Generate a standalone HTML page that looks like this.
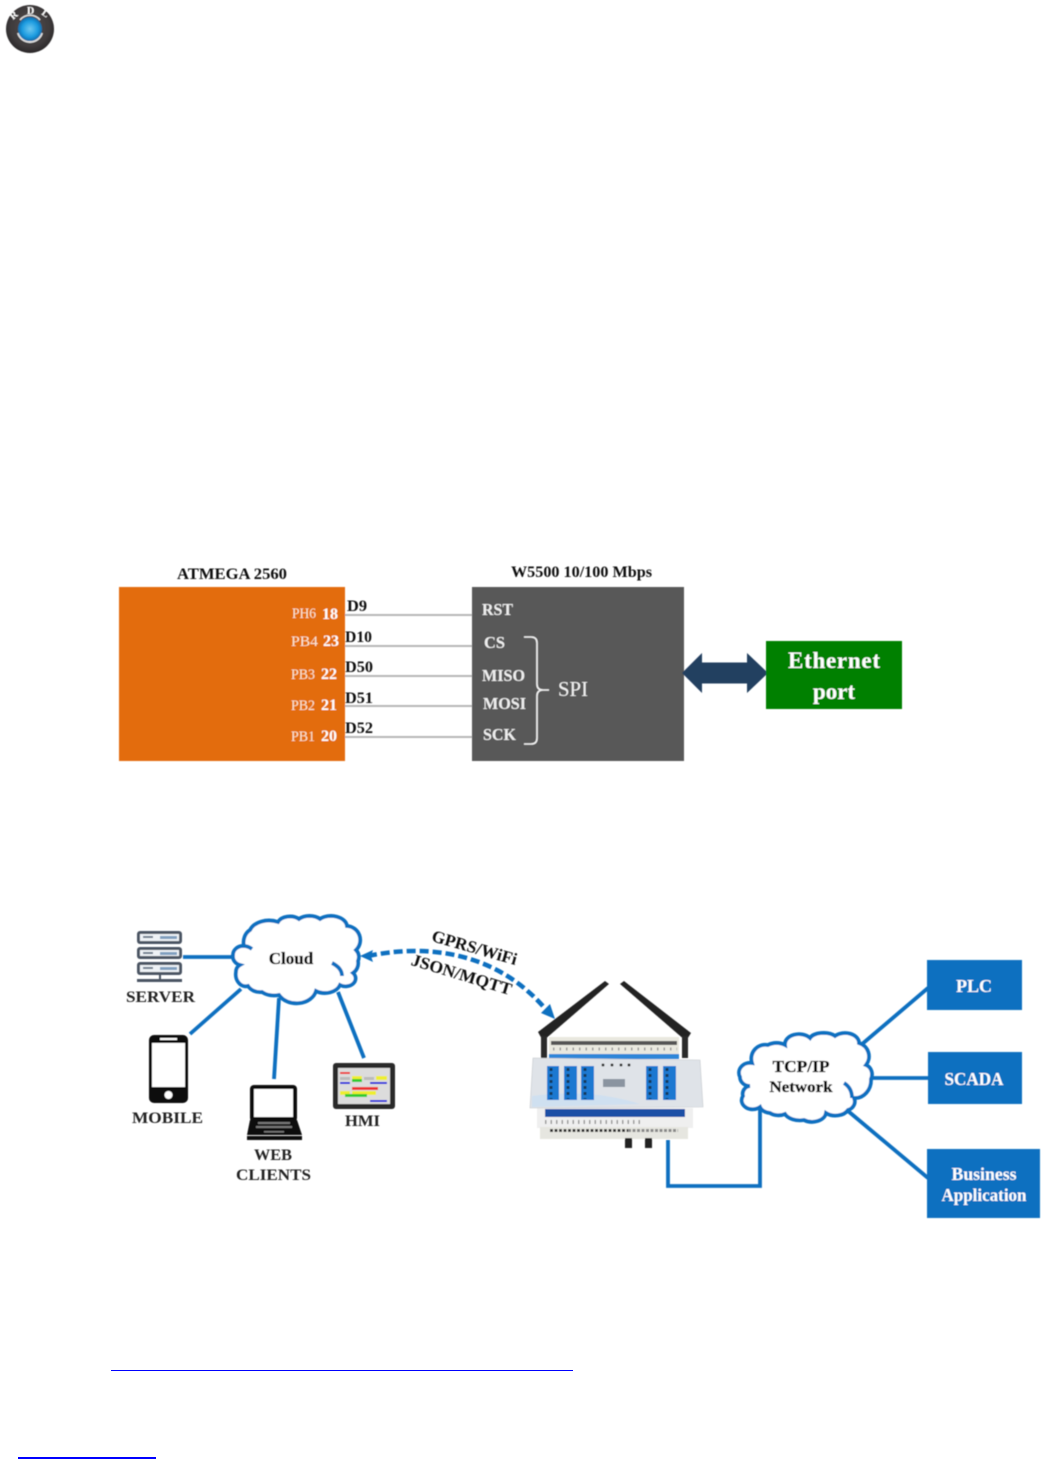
<!DOCTYPE html>
<html><head><meta charset="utf-8"><style>
html,body{margin:0;padding:0;background:#fff}
svg{display:block}
text{font-family:"Liberation Serif",serif}
.b{font-weight:700}
.c{text-anchor:middle}
</style></head><body>
<svg width="1048" height="1459" viewBox="0 0 1048 1459" xmlns="http://www.w3.org/2000/svg">
<defs><filter id="s" x="-5%" y="-5%" width="110%" height="110%"><feGaussianBlur stdDeviation="0.4"/></filter>
<radialGradient id="g" cx="50%" cy="50%" r="55%"><stop offset="0" stop-color="#6fc8ee"/><stop offset=".6" stop-color="#1c9be0"/><stop offset="1" stop-color="#0b5f9c"/></radialGradient>
<radialGradient id="d" cx="50%" cy="45%" r="55%"><stop offset="0" stop-color="#55504f"/><stop offset=".75" stop-color="#3e3a3b"/><stop offset="1" stop-color="#2a2829"/></radialGradient></defs>

<g filter="url(#s)">
<!-- logo -->
<circle cx="30" cy="29" r="24" fill="url(#d)"/>
<path d="M18 33A12.500 12.500 0 0 0 42 33" fill="none" stroke="#ddd" stroke-width="2"/>
<path d="M20 20A13 13 0 0 1 40 20" fill="none" stroke="#ddd" stroke-width="1.500"/>
<circle cx="30" cy="29" r="12" fill="url(#g)"/>
<text x="13" y="20" font-size="10" fill="#fff" class="b" transform="rotate(-40 13 20)">R</text>
<text x="27" y="14" font-size="10" fill="#fff" class="b">D</text>
<text x="41" y="14" font-size="10" fill="#fff" class="b" transform="rotate(35 41 14)">L</text>

<!-- SPI diagram -->
<text x="177" y="579" font-size="16" class="b" textLength="110" lengthAdjust="spacingAndGlyphs" fill="#111">ATMEGA 2560</text>
<text x="511" y="577" font-size="16" class="b" textLength="141" lengthAdjust="spacingAndGlyphs" fill="#111">W5500 10/100 Mbps</text>
<rect x="119" y="587" width="226" height="174" fill="#e36c09"/>
<rect x="472" y="587" width="212" height="174" fill="#595959"/>
<g stroke="#b8b8b8" stroke-width="2">
<line x1="345" y1="615" x2="472" y2="615"/><line x1="345" y1="646" x2="472" y2="646"/>
<line x1="345" y1="676" x2="472" y2="676"/><line x1="345" y1="706" x2="472" y2="706"/>
<line x1="345" y1="737" x2="472" y2="737"/></g>
<g font-size="16" class="b" fill="#111">
<text x="347" y="611" textLength="20" lengthAdjust="spacingAndGlyphs">D9</text><text x="345" y="642" textLength="27" lengthAdjust="spacingAndGlyphs">D10</text><text x="345" y="672" textLength="28" lengthAdjust="spacingAndGlyphs">D50</text><text x="345" y="703" textLength="28" lengthAdjust="spacingAndGlyphs">D51</text><text x="345" y="733" textLength="28" lengthAdjust="spacingAndGlyphs">D52</text></g>
<g font-size="15" fill="#fbe6d2">
<text x="292" y="618" textLength="24" lengthAdjust="spacingAndGlyphs">PH6</text><text x="291" y="646" textLength="27" lengthAdjust="spacingAndGlyphs">PB4</text><text x="291" y="679" textLength="24" lengthAdjust="spacingAndGlyphs">PB3</text><text x="291" y="710" textLength="24" lengthAdjust="spacingAndGlyphs">PB2</text><text x="291" y="741" textLength="24" lengthAdjust="spacingAndGlyphs">PB1</text></g>
<g font-size="16" class="b" fill="#fff">
<text x="322" y="619">18</text><text x="323" y="646">23</text><text x="321" y="679">22</text><text x="321" y="710">21</text><text x="321" y="741">20</text></g>
<g font-size="17" class="b" fill="#efefef">
<text x="482" y="615" textLength="31" lengthAdjust="spacingAndGlyphs">RST</text><text x="484" y="648" textLength="21" lengthAdjust="spacingAndGlyphs">CS</text><text x="482" y="681" textLength="43" lengthAdjust="spacingAndGlyphs">MISO</text><text x="483" y="709" textLength="43" lengthAdjust="spacingAndGlyphs">MOSI</text><text x="483" y="740" textLength="33" lengthAdjust="spacingAndGlyphs">SCK</text></g>
<path d="M524 637H531Q537 637 537 643V684Q537 690 543 690H549M543 690Q537 690 537 696V738Q537 744 531 744H524" fill="none" stroke="#f2f2f2" stroke-width="1.600"/>
<text x="558" y="696" font-size="21" fill="#f2f2f2" textLength="30" lengthAdjust="spacingAndGlyphs">SPI</text>
<polygon points="682,673 702,653 702,662.500 747,662.500 747,653 768,673 747,693 747,683.500 702,683.500 702,693" fill="#243f60"/>
<rect x="766" y="641" width="136" height="68" fill="#008000"/>
<text x="834" y="668" font-size="23" class="b c" fill="#fff" textLength="92">Ethernet</text>
<text x="834" y="699" font-size="23" class="b c" fill="#fff">port</text>

<!-- Cloud 1 -->
<g fill="none" stroke="#0f6fc0" stroke-width="3.800" stroke-linecap="butt">
<line x1="183" y1="957" x2="233" y2="957"/>
<line x1="190" y1="1034" x2="241" y2="989"/>
<line x1="274" y1="1079" x2="279" y2="998"/>
<line x1="364" y1="1058" x2="338" y2="992"/>
<path d="M233 955A10 9 0 0 1 244 946A12 14 0 0 1 250 930A20 14 0 0 1 278 922A13 9 0 0 1 299 919A14 9 0 0 1 320 919A16 11 0 0 1 347 926A14 14 0 0 1 356 950A10 10 0 0 1 358 961A12 12 0 0 1 353 973A10 8 0 0 1 340 985A16 12 0 0 1 316 991A20 16 0 0 1 279 995A16 10 0 0 1 262 992A14 12 0 0 1 248 986A10 12 0 0 1 236 972A8 8 0 0 1 240 965A10 9 0 0 1 233 955Z" fill="#fff"/>
<path d="M332 963Q342 968 342 976"/>
<path d="M244 946Q248 946 252 949"/>

<!-- Cloud 2 + links -->
<path d="M668 1140V1186H760V1105"/>
<line x1="861" y1="1045" x2="928" y2="988"/>
<line x1="870" y1="1078" x2="928" y2="1078"/>
<line x1="848" y1="1111" x2="928" y2="1178"/>
<path d="M740 1077A11 10 0 0 1 752 1063A14 14 0 0 1 768 1045A14 10 0 0 1 785 1045A14 10 0 0 1 810 1038A14 7 0 0 1 835 1036A14 10 0 0 1 859 1043A14 14 0 0 1 866 1065A9 10 0 0 1 871 1079A16 18 0 0 1 854 1098A10 9 0 0 1 848 1110A14 10 0 0 1 826 1113A14 10 0 0 1 804 1120A16 10 0 0 1 785 1114A12 8 0 0 1 770 1113A12 8 0 0 1 760 1107A11 9 0 0 1 743 1096A8 8 0 0 1 750 1086A10 9 0 0 1 740 1077Z" fill="#fff"/>
<path d="M844 1083Q852 1088 852 1098"/>
</g>
<g stroke="#111" stroke-width=".35" fill="#111">
<text x="291" y="964" font-size="17" class="b c">Cloud</text>
<text x="801" y="1072" font-size="17" class="b c" textLength="57" lengthAdjust="spacingAndGlyphs">TCP/IP</text>
<text x="801" y="1092" font-size="16" class="b c" textLength="63" lengthAdjust="spacingAndGlyphs">Network</text>
</g>

<!-- Server icon -->
<g>
<rect x="137" y="931" width="45" height="13" rx="3" fill="#4c5563"/><rect x="140" y="934" width="39" height="7" fill="#eef2f6"/>
<rect x="137" y="947" width="45" height="12" rx="3" fill="#4c5563"/><rect x="140" y="950" width="39" height="6" fill="#eef2f6"/>
<rect x="137" y="962" width="45" height="13" rx="3" fill="#4c5563"/><rect x="140" y="965" width="39" height="7" fill="#eef2f6"/>
<g fill="#7f9fbf"><rect x="160" y="936" width="17" height="3"/><rect x="160" y="952" width="17" height="3"/><rect x="160" y="967" width="17" height="3"/></g>
<g fill="#6a7a8a"><rect x="143" y="936" width="10" height="2"/><rect x="143" y="952" width="10" height="2"/><rect x="143" y="967" width="10" height="2"/></g>
<rect x="159" y="975" width="2" height="5" fill="#4c5563"/><rect x="137" y="979" width="45" height="3" fill="#4c5563"/>
</g>
<text x="126" y="1002" font-size="16" class="b" fill="#222" textLength="69" lengthAdjust="spacingAndGlyphs">SERVER</text>

<!-- Mobile -->
<rect x="149" y="1035" width="39" height="68" rx="5" fill="#0d0d0d"/>
<rect x="152" y="1043" width="33" height="44" fill="#fff"/>
<rect x="160" y="1038" width="17" height="2" fill="#fff"/>
<circle cx="168.500" cy="1095" r="4" fill="#fff"/>
<text x="132" y="1123" font-size="16" class="b" fill="#222" textLength="71" lengthAdjust="spacingAndGlyphs">MOBILE</text>

<!-- Laptop -->
<rect x="250" y="1085" width="47" height="37" rx="4" fill="#0d0d0d"/>
<rect x="254" y="1089" width="39" height="28" fill="#fff"/>
<path d="M250 1120H297L302 1135H247Z" fill="#0d0d0d"/>
<rect x="247" y="1136" width="55" height="4" fill="#0d0d0d"/>
<g fill="#777"><rect x="258" y="1122" width="32" height="2"/><rect x="256" y="1126" width="36" height="2"/><rect x="264" y="1131" width="20" height="1.500"/></g>
<text x="254" y="1160" font-size="16" class="b" fill="#222" textLength="38" lengthAdjust="spacingAndGlyphs">WEB</text>
<text x="236" y="1180" font-size="16" class="b" fill="#222" textLength="75" lengthAdjust="spacingAndGlyphs">CLIENTS</text>

<!-- HMI -->
<rect x="333" y="1063" width="62" height="46" rx="3" fill="#2a2a2a"/>
<rect x="338" y="1068" width="52" height="36" fill="#dcdcdc"/>
<g>
<rect x="340" y="1072" width="10" height="2" fill="#e33"/><rect x="340" y="1077" width="10" height="3" fill="#bbb"/>
<rect x="352" y="1076" width="10" height="4" fill="#ee3"/><rect x="352" y="1079" width="10" height="3" fill="#3c3"/>
<rect x="364" y="1077" width="10" height="3" fill="#bbb"/><rect x="376" y="1076" width="11" height="4" fill="#ee3"/>
<rect x="340" y="1082" width="10" height="2" fill="#22d"/><rect x="370" y="1082" width="17" height="2" fill="#22d"/>
<rect x="352" y="1087" width="26" height="3" fill="#e33"/><rect x="340" y="1091" width="10" height="4" fill="#ee3"/>
<rect x="352" y="1091" width="24" height="4" fill="#ee3"/><rect x="345" y="1094" width="22" height="3" fill="#3c3"/>
<rect x="370" y="1100" width="17" height="2" fill="#22d"/>
</g>
<text x="345" y="1126" font-size="16" class="b" fill="#222" textLength="35" lengthAdjust="spacingAndGlyphs">HMI</text>

<!-- Device -->
<g>
<polygon points="538,1032 605,981 609,984 543,1041" fill="#222"/>
<polygon points="620,984 624,981 691,1033 686,1041" fill="#222"/>
<rect x="541" y="1036" width="6" height="22" fill="#2a2a2a"/>
<rect x="682" y="1036" width="6" height="22" fill="#2a2a2a"/>
<rect x="549" y="1037" width="130" height="18" fill="#e9e8df"/>
<rect x="551" y="1041" width="126" height="4" fill="#555"/>
<line x1="553" y1="1049" x2="677" y2="1049" stroke="#999" stroke-width="3" stroke-dasharray="1.500 5"/>
<rect x="549" y="1054" width="130" height="5" fill="#2f86d8"/>
<rect x="537" y="1108" width="156" height="20" fill="#efefef"/>
<rect x="540" y="1127" width="148" height="12" fill="#e6e6e0"/>
<line x1="550" y1="1130.500" x2="628" y2="1130.500" stroke="#333" stroke-width="3" stroke-dasharray="3 1.500"/>
<line x1="628" y1="1130.500" x2="678" y2="1130.500" stroke="#888" stroke-width="3" stroke-dasharray="3 1.500"/>
<line x1="545" y1="1122" x2="640" y2="1122" stroke="#999" stroke-width="4" stroke-dasharray="1.500 4"/>
<rect x="545" y="1109" width="140" height="8" fill="#1d4fa6"/>
<polygon points="533,1058 700,1060 703,1107 530,1108" fill="#dfe3e8" stroke="#c4c8cc" stroke-width=".6"/>
<path d="M532 1096Q590 1088 640 1104L532 1107Z" fill="#cfe0f0"/>
<g fill="#1f78d1"><rect x="547" y="1066" width="12" height="34"/><rect x="564" y="1066" width="13" height="34"/><rect x="581" y="1066" width="13" height="34"/><rect x="646" y="1066" width="12" height="34"/><rect x="663" y="1066" width="13" height="34"/></g>
<g stroke="#123" stroke-width="3" stroke-dasharray="3 3" opacity=".75"><line x1="551" y1="1068" x2="551" y2="1099"/><line x1="568" y1="1068" x2="568" y2="1099"/><line x1="585" y1="1068" x2="585" y2="1099"/><line x1="650" y1="1068" x2="650" y2="1099"/><line x1="667" y1="1068" x2="667" y2="1099"/></g>
<g fill="#333"><circle cx="603" cy="1065" r="1.500"/><circle cx="612" cy="1065" r="1.500"/><circle cx="621" cy="1065" r="1.500"/><circle cx="629" cy="1065" r="1.500"/></g>
<rect x="603" y="1079" width="22" height="8" fill="#8a94a0"/>
<rect x="625" y="1138" width="7" height="10" fill="#222"/><rect x="645" y="1138" width="7" height="10" fill="#222"/>
</g>

<!-- dashed link -->
<path d="M368 956C425 944 497 950 548 1012" fill="none" stroke="#0f6fc0" stroke-width="4.500" stroke-dasharray="9 4"/>
<polygon points="360,956 373,950 371,956 373,962" fill="#0f6fc0"/>
<polygon points="555,1019 541,1013 550,1004" fill="#0f6fc0"/>
<text x="473" y="953" font-size="17" class="b c" fill="#111" textLength="88" lengthAdjust="spacingAndGlyphs" transform="rotate(16 473 953)">GPRS/WiFi</text>
<text x="460" y="980" font-size="17" class="b c" fill="#111" textLength="104" lengthAdjust="spacingAndGlyphs" transform="rotate(17 460 980)">JSON/MQTT</text>

<!-- boxes -->
<rect x="927" y="960" width="95" height="50" fill="#0f6fc0"/>
<rect x="928" y="1052" width="94" height="52" fill="#0f6fc0"/>
<rect x="927" y="1149" width="113" height="69" fill="#0f6fc0"/>
<text x="974" y="992" font-size="18" class="b c" fill="#fff">PLC</text>
<text x="974" y="1085" font-size="18" class="b c" fill="#fff" textLength="59" lengthAdjust="spacingAndGlyphs">SCADA</text>
<text x="984" y="1180" font-size="18" class="b c" fill="#fff" textLength="65" lengthAdjust="spacingAndGlyphs">Business</text>
<text x="984" y="1201" font-size="18" class="b c" fill="#fff" textLength="85" lengthAdjust="spacingAndGlyphs">Application</text>
</g>

<!-- hyperlinks underlines -->
<rect x="111" y="1370" width="462" height="1" fill="#0000ff"/>
<rect x="18" y="1457" width="138" height="2" fill="#0000ff"/>
</svg>
</body></html>
